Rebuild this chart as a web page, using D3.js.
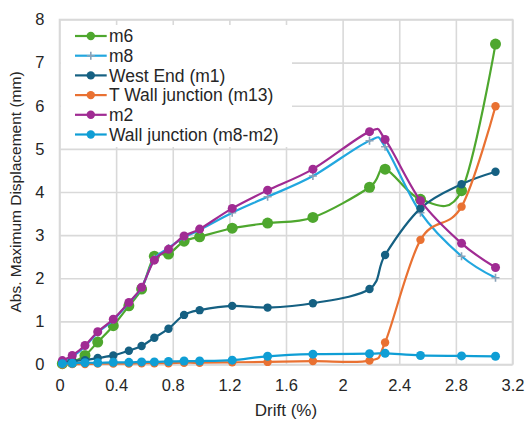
<!DOCTYPE html>
<html>
<head>
<meta charset="utf-8">
<script src="https://cdn.jsdelivr.net/npm/d3@7"></script>
<style>
  html, body { margin: 0; padding: 0; background: #fff; }
  svg { display: block; font-family: "Liberation Sans", Arial, sans-serif; }
</style>
</head>
<body>
<svg id="chart" width="530" height="421"></svg>
<script>
// Drift steps (%) shared by all series
const drift = [0.02, 0.09, 0.18, 0.27, 0.38, 0.49, 0.58, 0.67, 0.77, 0.88, 0.99, 1.22, 1.47, 1.79, 2.19, 2.30, 2.55, 2.84, 3.08];

// Absolute maximum displacement (mm) per measuring point
const m6     = [0.02, 0.05, 0.21, 0.52, 0.90, 1.36, 1.75, 2.51, 2.56, 2.86, 2.96, 3.16, 3.28, 3.41, 4.11, 4.53, 3.83, 4.03, 7.43];
const m8     = [0.07, 0.18, 0.42, 0.74, 1.03, 1.43, 1.78, 2.45, 2.70, 2.95, 3.12, 3.52, 3.89, 4.37, 5.19, 5.05, 3.52, 2.51, 2.01];
const westEnd = [0.05, 0.08, 0.10, 0.15, 0.21, 0.32, 0.43, 0.62, 0.83, 1.15, 1.26, 1.36, 1.32, 1.42, 1.75, 2.54, 3.62, 4.18, 4.47];
const tWall  = [0.00, 0.01, 0.01, 0.02, 0.02, 0.02, 0.03, 0.03, 0.03, 0.04, 0.04, 0.05, 0.06, 0.08, 0.09, 0.51, 2.89, 3.66, 5.99];
const m2     = [0.09, 0.21, 0.44, 0.76, 1.05, 1.44, 1.79, 2.42, 2.67, 2.98, 3.14, 3.62, 4.04, 4.53, 5.40, 5.22, 3.80, 2.81, 2.25];
const wallJ  = [0.02, 0.03, 0.04, 0.04, 0.05, 0.05, 0.06, 0.06, 0.07, 0.08, 0.08, 0.10, 0.19, 0.24, 0.25, 0.26, 0.21, 0.20, 0.19];

const seriesNames = ["m6", "m8", "West End (m1)", "T Wall junction (m13)", "m2", "Wall junction (m8-m2)"];
const seriesValues = [m6, m8, westEnd, tWall, m2, wallJ];
const seriesColors = ["#4ea72e", "#22a7df", "#156082", "#e97132", "#a02b93", "#0f9ed5"];
const seriesMarkers = ["circle", "plus", "circle", "circle", "circle", "circle"];
const markerRadius = [5.5, 4, 4.2, 4.2, 4.5, 4.5];

const xTicks = [0, 0.4, 0.8, 1.2, 1.6, 2, 2.4, 2.8, 3.2];
const yTicks = [0, 1, 2, 3, 4, 5, 6, 7, 8];

const svg = d3.select("#chart");
const plot = { left: 59.5, right: 512.5, top: 19.5, bottom: 364.5 };

const x = d3.scaleLinear().domain([0, 3.2]).range([plot.left, plot.right]);
const y = d3.scaleLinear().domain([0, 8]).range([plot.bottom, plot.top]);

const gridColor = "#d9d9d9";
const textColor = "#262626";

// Gridlines
svg.append("g")
  .attr("transform", `translate(0,${plot.bottom})`)
  .call(d3.axisBottom(x).tickValues(xTicks).tickSize(-(plot.bottom - plot.top)).tickFormat(""))
  .call(g => g.select(".domain").remove())
  .call(g => g.selectAll("line").attr("stroke", gridColor).attr("stroke-width", 1.6));

svg.append("g")
  .attr("transform", `translate(${plot.left},0)`)
  .call(d3.axisLeft(y).tickValues(yTicks).tickSize(-(plot.right - plot.left)).tickFormat(""))
  .call(g => g.select(".domain").remove())
  .call(g => g.selectAll("line").attr("stroke", gridColor).attr("stroke-width", 1.6));

// Plot border
svg.append("rect")
  .attr("x", plot.left).attr("y", plot.top)
  .attr("width", plot.right - plot.left).attr("height", plot.bottom - plot.top)
  .attr("fill", "none").attr("stroke", gridColor).attr("stroke-width", 1.6);

// Tick labels
const xAxis = svg.append("g")
  .attr("transform", `translate(0,${plot.bottom})`)
  .call(d3.axisBottom(x).tickValues(xTicks).tickSize(0).tickPadding(15).tickFormat(d => d3.format("")(+d.toFixed(1))));
xAxis.select(".domain").remove();
xAxis.selectAll("text").attr("fill", textColor).attr("font-size", "16.5px").attr("font-family", "Liberation Sans, Arial, sans-serif");

const yAxis = svg.append("g")
  .attr("transform", `translate(${plot.left},0)`)
  .call(d3.axisLeft(y).tickValues(yTicks).tickSize(0).tickPadding(15));
yAxis.select(".domain").remove();
yAxis.selectAll("text").attr("fill", textColor).attr("font-size", "16.5px").attr("font-family", "Liberation Sans, Arial, sans-serif");

// Axis titles
svg.append("text")
  .attr("x", (plot.left + plot.right) / 2).attr("y", 416)
  .attr("text-anchor", "middle").attr("fill", textColor).attr("font-size", "17px")
  .text("Drift (%)");

svg.append("text")
  .attr("transform", `translate(21,${(plot.top + plot.bottom) / 2}) rotate(-90)`)
  .attr("text-anchor", "middle").attr("fill", textColor).attr("font-size", "15.5px")
  .text("Abs. Maximum Displacement (mm)");

// Series lines and markers
const line = d3.line()
  .x(d => x(d[0]))
  .y(d => y(d[1]))
  .curve(d3.curveCardinal.tension(0));

function drawMarker(g, type, cx, cy, color, r) {
  if (type === "plus") {
    g.append("path")
      .attr("d", `M${cx - r},${cy}H${cx + r}M${cx},${cy - r}V${cy + r}`)
      .attr("stroke", "#8aa2b8").attr("stroke-width", 1.6).attr("fill", "none");
  } else {
    g.append("circle").attr("cx", cx).attr("cy", cy).attr("r", r).attr("fill", color);
  }
}

seriesValues.forEach((vals, i) => {
  const pts = drift.map((d, j) => [d, vals[j]]);
  const g = svg.append("g").attr("class", "series");
  g.append("path")
    .attr("d", line(pts))
    .attr("fill", "none")
    .attr("stroke", seriesColors[i])
    .attr("stroke-width", 2.2);
  pts.forEach(p => drawMarker(g, seriesMarkers[i], x(p[0]), y(p[1]), seriesColors[i], markerRadius[i]));
});

// Legend
const legend = svg.append("g");
legend.append("rect")
  .attr("x", 61).attr("y", 25).attr("width", 231).attr("height", 122)
  .attr("fill", "#fff");
seriesNames.forEach((name, i) => {
  const cy = 36 + i * 19.7;
  legend.append("line")
    .attr("x1", 75).attr("x2", 106.7).attr("y1", cy).attr("y2", cy)
    .attr("stroke", seriesColors[i]).attr("stroke-width", 2.2);
  drawMarker(legend, seriesMarkers[i], 90.8, cy, seriesColors[i], seriesMarkers[i] === "plus" ? 4 : 4.2);
  legend.append("text")
    .attr("x", 109).attr("y", cy).attr("dy", "0.36em")
    .attr("fill", textColor).attr("font-size", "17.5px")
    .text(name);
});
</script>
</body>
</html>
